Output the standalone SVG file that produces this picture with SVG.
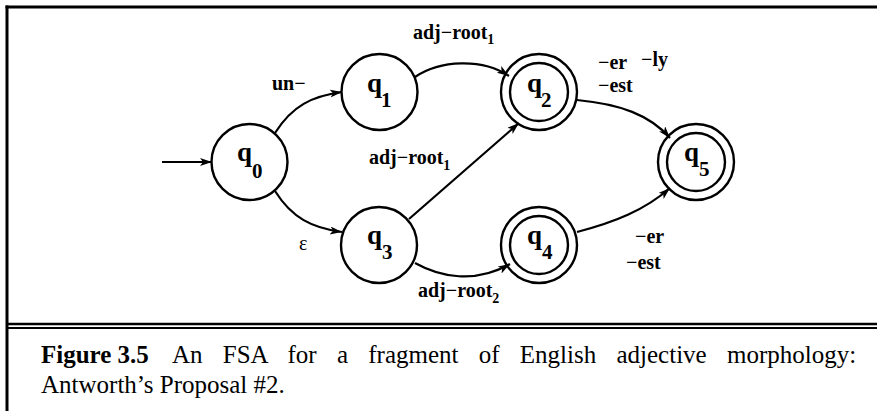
<svg xmlns="http://www.w3.org/2000/svg" width="877" height="411" viewBox="0 0 877 411">
<style>
.st{fill:none;stroke:#000;stroke-width:2.4}
.ed{fill:none;stroke:#000;stroke-width:2.2}
.q{font-family:"Liberation Serif",serif;font-weight:bold;font-size:27px}
.s{font-family:"Liberation Serif",serif;font-weight:bold;font-size:21px}
.lb{font-family:"Liberation Serif",serif;font-weight:bold;font-size:20px}
.sb{font-family:"Liberation Serif",serif;font-weight:bold;font-size:14px}
.cap{font-family:"Liberation Serif",serif;font-size:25px}
.fr{stroke:#000;fill:none}
</style>
<defs>
<marker id="ah" markerUnits="userSpaceOnUse" markerWidth="14" markerHeight="10" refX="12" refY="4" orient="auto">
<path d="M0,0 L12,4 L0,8 L3,4 z" fill="#000"/>
</marker>
</defs>
<rect width="877" height="411" fill="#fff"/>
<g id="frame">
<line class="fr" x1="5.5" y1="7" x2="877" y2="7" stroke-width="3"/>
<line class="fr" x1="7" y1="5.5" x2="7" y2="411" stroke-width="3"/>
<line class="fr" x1="7" y1="324" x2="877" y2="324" stroke-width="2.5"/>
<line class="fr" x1="7" y1="328" x2="877" y2="328" stroke-width="2"/>
</g>
<g id="connectors">
<line class="ed" x1="162" y1="162" x2="212" y2="162" marker-end="url(#ah)"/>
<path class="ed" d="M275,133 C292,106 312,96 342,92" marker-end="url(#ah)"/>
<path class="ed" d="M275,191 C292,218 312,228 342,232" marker-end="url(#ah)"/>
<path class="ed" d="M415,77 C440,60 482,58 509,76" marker-end="url(#ah)"/>
<line class="ed" x1="409" y1="219" x2="519" y2="123" marker-end="url(#ah)"/>
<path class="ed" d="M415,263 C440,277 475,284 510,264" marker-end="url(#ah)"/>
<path class="ed" d="M577,100 C620,104 650,115 670,138" marker-end="url(#ah)"/>
<path class="ed" d="M577,232 C615,222 645,210 670,188" marker-end="url(#ah)"/>
</g>
<g id="q0"><circle class="st" cx="249.5" cy="162" r="38"/><text class="q" x="237" y="161">q</text><text class="s" x="252" y="178">0</text></g>
<g id="q1"><circle class="st" cx="379.5" cy="92" r="38"/><text class="q" x="367" y="92">q</text><text class="s" x="381" y="107">1</text></g>
<g id="q2"><circle class="st" cx="539" cy="92" r="38"/><circle class="st" cx="539" cy="92" r="29"/><text class="q" x="527" y="92">q</text><text class="s" x="541" y="107">2</text></g>
<g id="q3"><circle class="st" cx="379" cy="245" r="38"/><text class="q" x="367" y="244">q</text><text class="s" x="382" y="259">3</text></g>
<g id="q4"><circle class="st" cx="539" cy="245" r="38"/><circle class="st" cx="539" cy="245" r="29"/><text class="q" x="527" y="244">q</text><text class="s" x="542" y="259">4</text></g>
<g id="q5"><circle class="st" cx="696" cy="162" r="38"/><circle class="st" cx="696" cy="162" r="29"/><text class="q" x="684" y="161">q</text><text class="s" x="699" y="176">5</text></g>
<g id="labels">
<text class="lb" x="413" y="39">adj−root<tspan class="sb" dy="5">1</tspan></text>
<text class="lb" x="272" y="90">un−</text>
<text class="lb" x="598" y="69">−er</text>
<text class="lb" x="641" y="66">−ly</text>
<text class="lb" x="598" y="92">−est</text>
<text class="lb" x="369" y="164">adj−root<tspan class="sb" dy="6">1</tspan></text>
<text x="299" y="250" font-family="Liberation Serif, serif" font-size="20">ε</text>
<text class="lb" x="418" y="297">adj−root<tspan class="sb" dy="6">2</tspan></text>
<text class="lb" x="635" y="243">−er</text>
<text class="lb" x="626" y="269">−est</text>
</g>
<g id="caption">
<text class="cap" x="41" y="363" font-weight="bold">Figure 3.5</text>
<text class="cap" x="172" y="363" word-spacing="14">An FSA for a fragment of English adjective morphology:</text>
<text class="cap" x="41" y="393">Antworth’s Proposal #2.</text>
</g>
</svg>
